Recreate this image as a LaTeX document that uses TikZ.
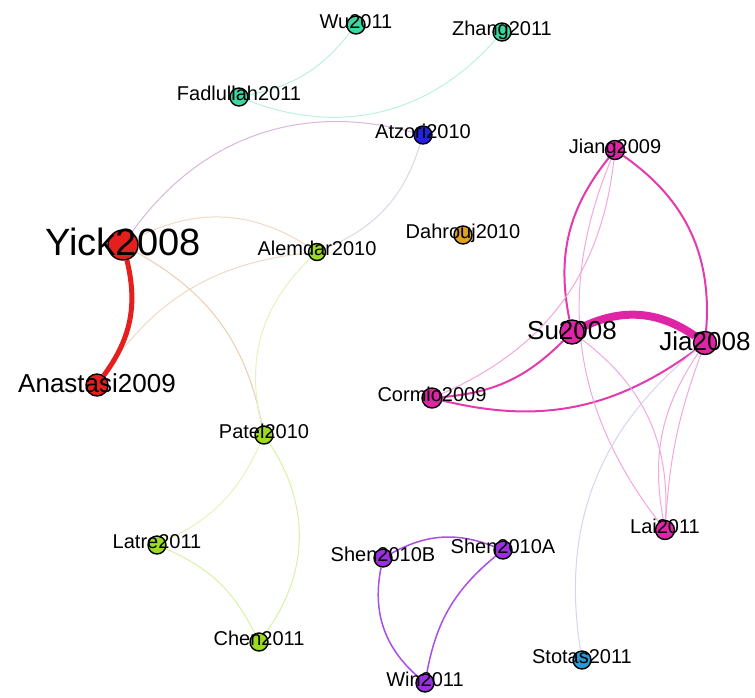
\documentclass[tikz,border=0pt]{standalone}
\usepackage{fontspec}
\setmainfont{Liberation Sans}
\usepackage{xcolor}
\usepackage{tikz}
\usetikzlibrary{backgrounds}
\definecolor{mintgreen}{HTML}{3DD6A0}
\definecolor{atzblue}{HTML}{2323D8}
\definecolor{citered}{HTML}{E51E1E}
\definecolor{limegreen}{HTML}{9CDB1E}
\definecolor{hotpink}{HTML}{E024A6}
\definecolor{goldorange}{HTML}{E0A21E}
\definecolor{shenpurple}{HTML}{9A30E0}
\definecolor{skyblue}{HTML}{2A9AD6}
\definecolor{plumedge}{HTML}{D9B6DB}
\definecolor{greyedge}{HTML}{DDD5E4}
\definecolor{sandedge}{HTML}{EFD9C4}
\definecolor{tanedge}{HTML}{E9CDB2}
\definecolor{lilacedge}{HTML}{D9D2F0}

\begin{document}
\begin{tikzpicture}[
    x=1pt, y=-1pt,
    paper/.style={circle, draw=black, line width=1.4pt, inner sep=0pt, minimum size=18pt},
    lbls/.style={anchor=base, inner sep=0pt, font=\fontsize{20}{24}\selectfont, yshift=-3pt},
    lblm/.style={anchor=base, inner sep=0pt, font=\fontsize{26}{30}\selectfont, yshift=-7pt},
    lblb/.style={anchor=base, inner sep=0pt, font=\fontsize{38}{44}\selectfont, yshift=-10pt},
    cite/.style={line width=1pt},
    strong/.style={line width=2pt, color=hotpink!90},
    faint/.style={line width=1pt, color=hotpink!40}
]
\useasboundingbox (0,0) rectangle (755,697);

% papers
\node[paper, fill=mintgreen] (wu) at (356,25) {};
\node[paper, fill=mintgreen] (zhang) at (502,32) {};
\node[paper, fill=mintgreen] (fadl) at (239,97) {};
\node[paper, fill=atzblue] (atzori) at (423,135) {};
\node[paper, fill=hotpink, minimum size=19pt] (jiang) at (615,150) {};
\node[paper, fill=goldorange] (dahrouj) at (463,235) {};
\node[paper, fill=citered, minimum size=30pt] (yick) at (123,245) {};
\node[paper, fill=limegreen, minimum size=17pt] (alemdar) at (317,252) {};
\node[paper, fill=hotpink, minimum size=24pt] (su) at (572,332) {};
\node[paper, fill=hotpink, minimum size=23pt] (jia) at (705,343) {};
\node[paper, fill=citered, minimum size=22pt] (anast) at (97,385) {};
\node[paper, fill=hotpink, minimum size=20pt] (cormio) at (432,398) {};
\node[paper, fill=limegreen] (patel) at (264,435) {};
\node[paper, fill=hotpink, minimum size=19pt] (lai) at (665,530) {};
\node[paper, fill=limegreen] (latre) at (157,545) {};
\node[paper, fill=shenpurple] (shenb) at (383,558) {};
\node[paper, fill=shenpurple] (shena) at (503,550) {};
\node[paper, fill=limegreen] (chen) at (259,642) {};
\node[paper, fill=skyblue] (stotas) at (582,660) {};
\node[paper, fill=shenpurple] (win) at (425,683) {};

% labels
\node[lbls] (wu-l) at (wu) {Wu2011};
\node[lbls] (zhang-l) at (zhang) {Zhang2011};
\node[lbls] (fadl-l) at (fadl) {Fadlullah2011};
\node[lbls] (atzori-l) at (atzori) {Atzori2010};
\node[lbls] (jiang-l) at (jiang) {Jiang2009};
\node[lbls] (dahrouj-l) at (dahrouj) {Dahrouj2010};
\node[lblb] (yick-l) at (yick) {Yick2008};
\node[lbls] (alemdar-l) at (alemdar) {Alemdar2010};
\node[lblm] (su-l) at (su) {Su2008};
\node[lblm] (jia-l) at (jia) {Jia2008};
\node[lblm] (anast-l) at (anast) {Anastasi2009};
\node[lbls] (cormio-l) at (cormio) {Cormio2009};
\node[lbls] (patel-l) at (patel) {Patel2010};
\node[lbls] (lai-l) at (lai) {Lai2011};
\node[lbls] (latre-l) at (latre) {Latre2011};
\node[lbls] (shenb-l) at (shenb) {Shen2010B};
\node[lbls] (shena-l) at (shena) {Shen2010A};
\node[lbls] (chen-l) at (chen) {Chen2011};
\node[lbls] (stotas-l) at (stotas) {Stotas2011};
\node[lbls] (win-l) at (win) {Win2011};

% citations
\begin{scope}[on background layer]
\draw[cite, mintgreen!35] (fadl) to[bend right=20] (wu);
\draw[cite, mintgreen!35] (fadl) to[bend right=35] (zhang);
\draw[cite, plumedge] (yick) to[bend left=35] (atzori);
\draw[cite, greyedge] (atzori) to[bend left=25] (alemdar);
\draw[cite, sandedge] (yick) to[bend left=30] (alemdar);
\draw[cite, sandedge] (anast) to[bend left=25] (alemdar);
\draw[cite, tanedge] (yick) to[bend left=25] (patel);
\draw[cite, limegreen!30] (alemdar) to[bend right=30] (patel);
\draw[cite, limegreen!30] (patel) to[bend left=20] (latre);
\draw[cite, limegreen!40] (patel) to[bend left=35] (chen);
\draw[cite, limegreen!40] (latre) to[bend left=20] (chen);
\draw[line width=5pt, citered] (yick) to[bend left=25] (anast);

\draw[line width=8pt, hotpink] (su) to[bend left=30] (jia);
\draw[strong] (jiang) to[bend right=25] (su);
\draw[strong] (jiang) to[bend left=30] (jia);
\draw[strong] (su) to[bend left=20] (cormio);
\draw[strong] (jia) to[bend left=25] (cormio);
\draw[faint] (jiang) to[bend left=30] (cormio);
\draw[faint] (jiang) to[bend right=30] (lai);
\draw[faint] (su) to[bend left=28] (lai);
\draw[faint] (jia) to[bend right=22] (lai);
\draw[faint] (jia) to[bend right=8] (lai);
\draw[cite, lilacedge] (jia) to[bend right=30] (stotas);

\draw[line width=1.5pt, shenpurple!85] (shenb) to[bend left=25] (shena);
\draw[line width=1.5pt, shenpurple!85] (shenb) to[bend right=30] (win);
\draw[line width=1.5pt, shenpurple!85] (shena) to[bend right=20] (win);
\end{scope}
\end{tikzpicture}
\end{document}
